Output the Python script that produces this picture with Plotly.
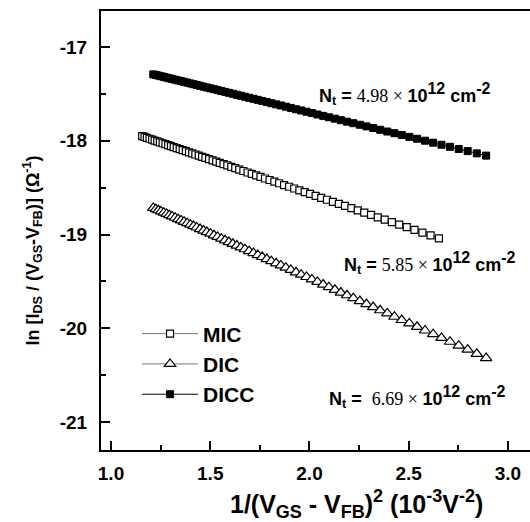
import plotly.graph_objects as go

# ---------------- data ----------------
mic_x = [1.157, 1.169, 1.181, 1.194, 1.207, 1.220, 1.233, 1.246, 1.260, 1.274, 1.288, 1.302,
         1.316, 1.331, 1.346, 1.361, 1.377, 1.393, 1.409, 1.425, 1.442, 1.459, 1.476, 1.494,
         1.512, 1.530, 1.548, 1.567, 1.586, 1.606, 1.626, 1.646, 1.667, 1.688, 1.709, 1.731,
         1.753, 1.776, 1.799, 1.823, 1.847, 1.872, 1.897, 1.923, 1.949, 1.976, 2.003, 2.031,
         2.059, 2.088, 2.118, 2.148, 2.179, 2.211, 2.243, 2.276, 2.310, 2.344, 2.379, 2.415,
         2.452, 2.490, 2.529, 2.569, 2.610, 2.652]
mic_y = [-17.951, -17.959, -17.968, -17.978, -17.987, -17.997, -18.006, -18.016, -18.026, -18.036,
         -18.046, -18.056, -18.067, -18.078, -18.088, -18.099, -18.111, -18.123, -18.134, -18.146,
         -18.158, -18.171, -18.183, -18.196, -18.209, -18.222, -18.236, -18.249, -18.263, -18.278,
         -18.292, -18.307, -18.322, -18.338, -18.353, -18.369, -18.385, -18.402, -18.418, -18.436,
         -18.453, -18.472, -18.490, -18.509, -18.528, -18.547, -18.567, -18.588, -18.608, -18.629,
         -18.651, -18.673, -18.695, -18.719, -18.742, -18.766, -18.791, -18.816, -18.841, -18.867,
         -18.894, -18.922, -18.950, -18.980, -19.009, -19.040]

dic_x = [1.213, 1.226, 1.239, 1.252, 1.266, 1.280, 1.294, 1.308, 1.323, 1.338, 1.353, 1.368,
         1.384, 1.400, 1.416, 1.432, 1.449, 1.466, 1.483, 1.501, 1.519, 1.537, 1.556, 1.575,
         1.594, 1.614, 1.634, 1.654, 1.675, 1.696, 1.718, 1.740, 1.762, 1.785, 1.808, 1.832,
         1.856, 1.881, 1.906, 1.932, 1.958, 1.985, 2.012, 2.040, 2.069, 2.098, 2.128, 2.158,
         2.189, 2.221, 2.254, 2.287, 2.321, 2.356, 2.392, 2.428, 2.465, 2.503, 2.542, 2.582,
         2.623, 2.665, 2.708, 2.752, 2.797, 2.843, 2.890]
dic_y = [-18.716, -18.729, -18.741, -18.753, -18.767, -18.780, -18.794, -18.807, -18.821, -18.836,
         -18.850, -18.864, -18.879, -18.895, -18.910, -18.925, -18.942, -18.958, -18.974, -18.991,
         -19.008, -19.026, -19.044, -19.062, -19.080, -19.099, -19.118, -19.137, -19.157, -19.177,
         -19.198, -19.219, -19.240, -19.262, -19.284, -19.307, -19.330, -19.354, -19.378, -19.403,
         -19.428, -19.453, -19.479, -19.506, -19.534, -19.561, -19.590, -19.619, -19.648, -19.679,
         -19.710, -19.742, -19.774, -19.808, -19.842, -19.877, -19.912, -19.948, -19.985, -20.024,
         -20.063, -20.103, -20.144, -20.186, -20.229, -20.273, -20.318]

dicc_x = [1.213, 1.226, 1.239, 1.252, 1.266, 1.280, 1.294, 1.308, 1.323, 1.338, 1.353, 1.368,
          1.384, 1.400, 1.416, 1.432, 1.449, 1.466, 1.483, 1.501, 1.519, 1.537, 1.556, 1.575,
          1.594, 1.614, 1.634, 1.654, 1.675, 1.696, 1.718, 1.740, 1.762, 1.785, 1.808, 1.832,
          1.856, 1.881, 1.906, 1.932, 1.958, 1.985, 2.012, 2.040, 2.069, 2.098, 2.128, 2.158,
          2.189, 2.221, 2.254, 2.287, 2.321, 2.356, 2.392, 2.428, 2.465, 2.503, 2.542, 2.582,
          2.623, 2.665, 2.708, 2.752, 2.797, 2.843, 2.890]
dicc_y = [-17.291, -17.298, -17.304, -17.311, -17.318, -17.326, -17.333, -17.340, -17.348, -17.356,
          -17.363, -17.371, -17.379, -17.388, -17.396, -17.404, -17.413, -17.422, -17.431, -17.440,
          -17.449, -17.459, -17.468, -17.478, -17.488, -17.498, -17.509, -17.519, -17.530, -17.541,
          -17.552, -17.563, -17.575, -17.587, -17.599, -17.611, -17.623, -17.636, -17.649, -17.663,
          -17.676, -17.690, -17.704, -17.719, -17.734, -17.749, -17.764, -17.780, -17.796, -17.812,
          -17.829, -17.846, -17.864, -17.882, -17.901, -17.919, -17.938, -17.958, -17.978, -17.999,
          -18.020, -18.042, -18.064, -18.087, -18.110, -18.134, -18.158]

series_names = ["MIC", "DIC", "DICC"]
x_tick_vals = [1.0, 1.5, 2.0, 2.5, 3.0]
x_tick_text = ["1.0", "1.5", "2.0", "2.5", "3.0"]
y_tick_vals = [-21, -20, -19, -18, -17]
y_tick_text = ["-21", "-20", "-19", "-18", "-17"]
nt_values = ["4.98", "5.85", "6.69"]

# ---------------- figure ----------------
SANS = "Liberation Sans, Arial, sans-serif"
SERIF = "Liberation Serif"

fig = go.Figure()
fig.add_trace(go.Scatter(
    x=mic_x, y=mic_y, mode="lines+markers", name=series_names[0], legendgroup="a",
    line=dict(color="#777777", width=1),
    marker=dict(symbol="square", size=7, color="white", line=dict(color="black", width=1.2)),
))
fig.add_trace(go.Scatter(
    x=dic_x, y=dic_y, mode="lines+markers", name=series_names[1], legendgroup="b",
    line=dict(color="#777777", width=1),
    marker=dict(symbol="triangle-up", size=10, color="white", line=dict(color="black", width=1.2)),
))
fig.add_trace(go.Scatter(
    x=dicc_x, y=dicc_y, mode="lines+markers", name=series_names[2], legendgroup="c",
    line=dict(color="black", width=1),
    marker=dict(symbol="square", size=7, color="black", line=dict(color="black", width=1)),
))

def nt_text(v, extra_space=False):
    sp = "&nbsp;" if extra_space else ""
    return ("<b>N<sub>t</sub> =</b> " + sp +
            f"<span style=\"font-family:{SERIF}; font-weight:normal; font-size:18px\">{v} × </span>"
            "<b>10<sup><span style=\"font-size:16px\">12</span></sup> cm"
            "<sup><span style=\"font-size:16px\">-2</span></sup></b>")

ann_font = dict(family=SANS, size=18, color="black")
fig.add_annotation(x=2.036, y=-17.5, xref="x", yref="y", text=nt_text(nt_values[0]),
                   showarrow=False, xanchor="left", yanchor="middle", font=ann_font)
fig.add_annotation(x=2.162, y=-19.3, xref="x", yref="y", text=nt_text(nt_values[1]),
                   showarrow=False, xanchor="left", yanchor="middle", font=ann_font)
fig.add_annotation(x=2.087, y=-20.73, xref="x", yref="y", text=nt_text(nt_values[2], True),
                   showarrow=False, xanchor="left", yanchor="middle", font=ann_font)

# x-axis title as annotation (the original frame is wider than the visible crop)
SUB = "<sub><span style=\"font-size:18px\">{}</span></sub>"
SUP = "<sup><span style=\"font-size:18px\">{}</span></sup>"
x_title = ("<b>1/(V" + SUB.format("GS") + " - V" + SUB.format("FB") + ")" + SUP.format("2") +
           " (10" + SUP.format("-3") + "V" + SUP.format("-2") + ")</b>")
fig.add_annotation(x=0.5956, y=-0.124, xref="paper", yref="paper", text=x_title,
                   showarrow=False, xanchor="center", yanchor="middle",
                   font=dict(family=SANS, size=25, color="black"))

# y-axis title as rotated annotation
y_title = "<b>ln [I<sub>DS</sub> / (V<sub>GS</sub>-V<sub>FB</sub>)] (Ω<sup>-1</sup>)</b>"
fig.add_annotation(x=-0.160, y=0.455, xref="paper", yref="paper", text=y_title,
                   textangle=-90, showarrow=False, xanchor="center", yanchor="middle",
                   font=dict(family=SANS, size=18, color="black"))

fig.update_layout(
    width=530, height=522,
    margin=dict(l=101, r=0, t=11, b=72, autoexpand=False),
    paper_bgcolor="white", plot_bgcolor="white",
    font=dict(family=SANS, size=16, color="black"),
    showlegend=True,
    legend=dict(x=0.084, y=0.311, xanchor="left", yanchor="top",
                font=dict(family=SANS, size=21, color="black", weight="bold"),
                bgcolor="rgba(0,0,0,0)", tracegroupgap=0, traceorder="grouped",
                itemwidth=56),
)

fig.update_xaxes(
    range=[0.9496, 3.111], showgrid=False, zeroline=False,
    showline=True, linecolor="black", linewidth=2, mirror=True,
    ticks="inside", ticklen=9, tickwidth=2, tickcolor="black",
    tickvals=x_tick_vals, ticktext=x_tick_text,
    tickfont=dict(family=SANS, size=19, weight="bold"),
    ticklabelstandoff=5,
    minor=dict(ticks="inside", ticklen=5, tickwidth=2, tickcolor="black", dtick=0.25, tick0=1.0, showgrid=False),
)
fig.update_yaxes(
    range=[-21.299, -16.615], showgrid=False, zeroline=False,
    showline=True, linecolor="black", linewidth=2, mirror=False,
    ticks="inside", ticklen=9, tickwidth=2, tickcolor="black",
    tickvals=y_tick_vals, ticktext=y_tick_text,
    tickfont=dict(family=SANS, size=19, weight="bold"),
    ticklabelstandoff=8,
    minor=dict(ticks="inside", ticklen=5, tickwidth=2, tickcolor="black", dtick=0.5, tick0=-17, showgrid=False),
)

fig.write_html("out.html", config={"displayModeBar": False},
               post_script="document.body.style.margin='0';document.body.style.overflow='hidden';")
